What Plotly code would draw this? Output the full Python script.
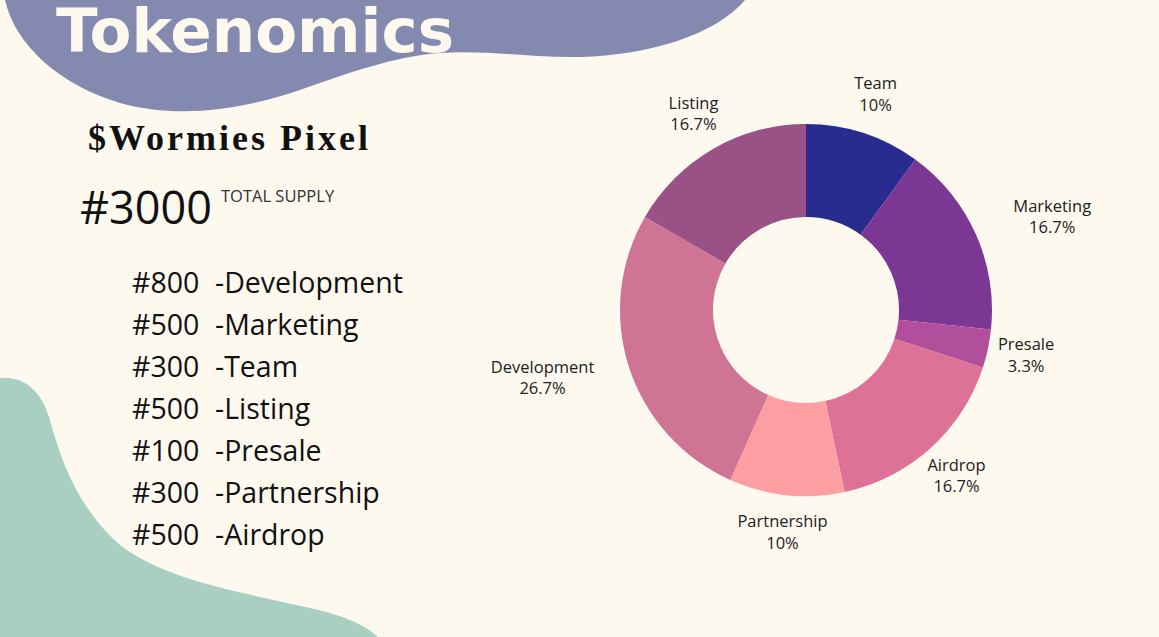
import math
import plotly.graph_objects as go

# ---- data ----
list_categories = ["Development", "Marketing", "Team", "Listing", "Presale", "Partnership", "Airdrop"]
list_amounts = [800, 500, 300, 500, 100, 300, 500]
pie_order = ["Team", "Marketing", "Presale", "Airdrop", "Partnership", "Development", "Listing"]
slice_colors = {
    "Team": "#282c8e",
    "Marketing": "#7c3794",
    "Presale": "#b24f9c",
    "Airdrop": "#de7196",
    "Partnership": "#fd9ea2",
    "Development": "#cf7494",
    "Listing": "#9a5286",
}
total_supply = 3000
project_name = "$Wormies Pixel"
title_text = "Tokenomics"

amount_of = dict(zip(list_categories, list_amounts))
pie_values = [amount_of[c] for c in pie_order]
pie_colors = [slice_colors[c] for c in pie_order]

W, H = 1159, 637
BG = "#fdf9ef"
CX, CY, R_OUT = 806, 310, 186  # donut centre / radius in pixels
LABEL_R = 225
LABEL_GAP = 30
CHAR_W = 9.8
HALF_H = 21

fig = go.Figure()

fig.add_trace(go.Pie(
    labels=pie_order,
    values=pie_values,
    sort=False,
    direction="clockwise",
    rotation=0,
    hole=0.5,
    marker=dict(colors=pie_colors, line=dict(width=0)),
    textinfo="none",
    domain=dict(x=[(CX - R_OUT) / W, (CX + R_OUT) / W],
                y=[(H - CY - R_OUT) / H, (H - CY + R_OUT) / H]),
    showlegend=False,
    hoverinfo="label+value+percent",
))

# slice labels centred on each slice's mid-angle, pushed clear of the ring
total = sum(pie_values)
lx, ly, ltext = [], [], []
cum = 0
for cat, v in zip(pie_order, pie_values):
    frac = v / total
    theta = 2 * math.pi * (cum + frac / 2)
    cum += frac
    s, c = math.sin(theta), math.cos(theta)
    pct = f"{round(frac * 100, 1):g}%"
    x = CX + s * LABEL_R
    y = CY - c * LABEL_R
    hw = max(len(cat), len(pct)) * CHAR_W / 2
    nx = min(max(CX, x - hw), x + hw)
    ny = min(max(CY, y - HALF_H), y + HALF_H)
    if math.hypot(nx - CX, ny - CY) < R_OUT:
        edge = math.sqrt(max(R_OUT ** 2 - (ny - CY) ** 2, 0))
        if s > 0:
            x = CX + edge + LABEL_GAP + hw
        else:
            x = CX - edge - LABEL_GAP - hw
    lx.append(x)
    ly.append(y)
    ltext.append(f"{cat}<br>{pct}")

fig.add_trace(go.Scatter(
    x=lx, y=ly, text=ltext, mode="text", textposition="middle center",
    textfont=dict(family="Open Sans", size=16.5, color="#222222"),
    hoverinfo="skip", showlegend=False,
))

# decorative blobs (pixel coordinates on a hidden axis)
purple_blob = ("M 5,0 C 15,45 60,85 120,103 C 175,118 235,112 300,90 "
               "C 345,74 395,56 440,53 C 490,50 530,58 580,57 "
               "C 650,55 715,35 745,0 Z")
teal_blob = ("M 0,378 C 25,376 42,392 50,420 C 62,465 80,510 120,545 "
             "C 165,580 240,592 310,608 C 345,616 365,625 378,637 L 0,637 Z")

shapes = [
    dict(type="path", path=purple_blob, xref="x", yref="y",
         fillcolor="#8489b0", line=dict(width=0), layer="below"),
    dict(type="path", path=teal_blob, xref="x", yref="y",
         fillcolor="#a9cfc3", line=dict(width=0), layer="below"),
]

annotations = [
    dict(text=f"<b>{title_text}</b>", x=54, y=30, xref="x", yref="y",
         xanchor="left", yanchor="middle", showarrow=False,
         font=dict(family="DejaVu Sans", size=61, color=BG)),
    dict(text=f"<span style='letter-spacing:3px'><b>{project_name}</b></span>",
         x=86, y=138, xref="x", yref="y",
         xanchor="left", yanchor="middle", showarrow=False,
         font=dict(family="Liberation Serif", size=36, color="#111111")),
    dict(text=f"#{total_supply}", x=78, y=206, xref="x", yref="y",
         xanchor="left", yanchor="middle", showarrow=False,
         font=dict(family="Open Sans", size=45, color="#111111")),
    dict(text="TOTAL SUPPLY", x=219, y=195, xref="x", yref="y",
         xanchor="left", yanchor="middle", showarrow=False,
         font=dict(family="Open Sans", size=16.5, color="#333333")),
]

for i, (cat, amt) in enumerate(zip(list_categories, list_amounts)):
    yy = 282 + 42 * i
    annotations.append(dict(text=f"#{amt}", x=130, y=yy, xref="x", yref="y",
                            xanchor="left", yanchor="middle", showarrow=False,
                            font=dict(family="Open Sans", size=28.5, color="#111111")))
    annotations.append(dict(text=f"-{cat}", x=213, y=yy, xref="x", yref="y",
                            xanchor="left", yanchor="middle", showarrow=False,
                            font=dict(family="Open Sans", size=28.5, color="#111111")))

fig.update_layout(
    width=W, height=H,
    margin=dict(l=0, r=0, t=0, b=0),
    paper_bgcolor=BG, plot_bgcolor=BG,
    xaxis=dict(range=[0, W], visible=False, fixedrange=True),
    yaxis=dict(range=[H, 0], visible=False, fixedrange=True),
    shapes=shapes,
    annotations=annotations,
    showlegend=False,
)

fig.write_html("out.html")
